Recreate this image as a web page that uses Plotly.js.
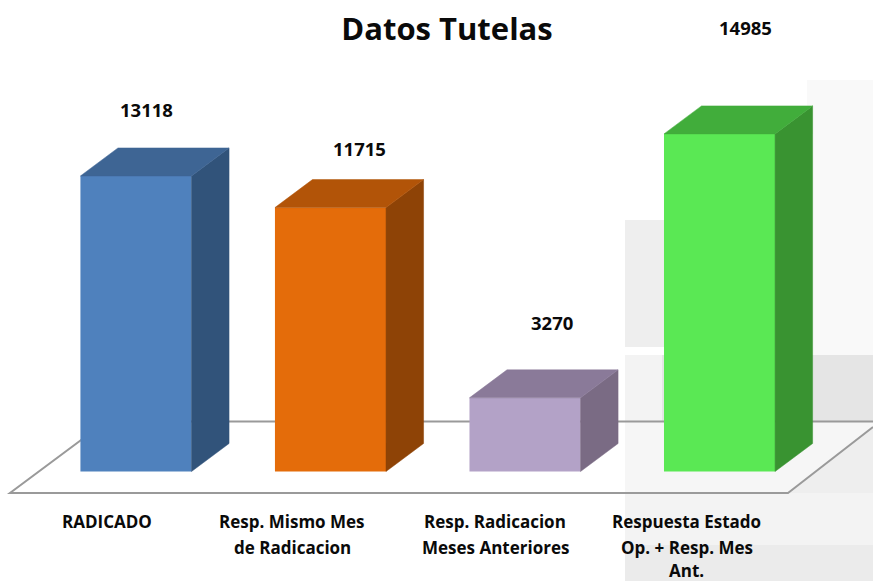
<!DOCTYPE html>
<html>
<head>
<meta charset="utf-8">
<script src="https://cdn.plot.ly/plotly-3.0.1.min.js"></script>
<style>html,body{margin:0;padding:0;background:#fff;overflow:hidden}#chart{width:873px;height:581px}</style>
</head>
<body>
<div id="chart"></div>
<script>
const categories = ['RADICADO', 'Resp. Mismo Mes<br>de Radicacion', 'Resp. Radicacion<br>Meses Anteriores', 'Respuesta Estado<br>Op. + Resp. Mes<br>Ant.'];
const values = [13118, 11715, 3270, 14985];
const frontColors = ['#4f81bd', '#e46c0a', '#b3a2c7', '#5ae854'];
const sideColors = ['#31537a', '#8e4306', '#7a6b84', '#399331'];
const topColors = ['#3e6594', '#b25408', '#8a7a99', '#41ad3b'];
const valueShiftX = [11, 29, 27, 26];
const valueShiftY = [66, 59, 75, 106];
const catShiftX = [-29, -38, -30, -33];
const lineOffsets = [0, 26, 49];

const barWidth = 0.571, depthX = 0.193, depthY = 1243;
const positions = values.map((_, i) => i);

const traces = [{
  type: 'bar', x: positions, y: values, width: barWidth,
  marker: {color: frontColors, line: {width: 0}}, hoverinfo: 'y'
}];
values.forEach((v, i) => {
  const r = i + barWidth / 2, l = i - barWidth / 2;
  traces.push({
    type: 'scatter', mode: 'lines', fill: 'toself', fillcolor: sideColors[i],
    line: {width: 0.5, color: sideColors[i]}, hoverinfo: 'skip',
    x: [r, r + depthX, r + depthX, r, r],
    y: [0, depthY, v + depthY, v, 0]
  });
  traces.push({
    type: 'scatter', mode: 'lines', fill: 'toself', fillcolor: topColors[i],
    line: {width: 0.5, color: topColors[i]}, hoverinfo: 'skip',
    x: [l, l + depthX, r + depthX, r, l],
    y: [v, v + depthY, v + depthY, v, v]
  });
});

const W = 873, H = 581;
const rect = (x0, y0, x1, y1, color) => ({
  type: 'rect', xref: 'paper', yref: 'paper', layer: 'below',
  x0: x0 / W, x1: x1 / W, y0: 1 - y0 / H, y1: 1 - y1 / H,
  fillcolor: color, line: {width: 0}
});
const floorPts = [[10, 493], [106, 421.5], [873, 421.5], [873, 427], [788, 493]];
const toPath = pts => 'M' + pts.map(p => (p[0] / W) + ',' + (1 - p[1] / H)).join('L') + 'Z';
const line = (pts, color, w) => ({
  type: 'path', xref: 'paper', yref: 'paper', layer: 'below',
  path: 'M' + pts.map(p => (p[0] / W) + ',' + (1 - p[1] / H)).join('L'),
  line: {color: color, width: w}
});
const shapes = [
  rect(807, 80, 873, 355, '#f9f9f9'),
  rect(625, 220, 807, 347, '#eeeeee'),
  rect(625, 355, 873, 581, '#eeeeee'),
  rect(625, 355, 662, 421, '#f3f3f3'),
  rect(662, 355, 873, 421, '#e5e5e5'),
  rect(625, 493, 873, 545, '#f3f3f3'),
  rect(625, 545, 873, 581, '#ebebeb'),
  {type: 'path', xref: 'paper', yref: 'paper', layer: 'below', path: toPath(floorPts), fillcolor: '#f6f6f6', line: {width: 0}},
  {type: 'path', xref: 'paper', yref: 'paper', layer: 'below', path: toPath([[10, 493], [106, 421.5], [625, 421.5], [625, 493]]), fillcolor: '#ffffff', line: {width: 0}},
  line([[873, 427], [788, 493], [10, 493], [106, 421.5], [873, 421.5]], '#9a9a9a', 2)
];

const font = '"Open Sans", sans-serif';
const annotations = [];
values.forEach((v, i) => {
  annotations.push({
    x: i, y: v, xref: 'x', yref: 'y', text: String(v), showarrow: false,
    xshift: valueShiftX[i], yshift: valueShiftY[i], xanchor: 'center', yanchor: 'middle',
    font: {family: font, size: 18.5, color: '#0a0a0a', weight: 700}
  });
  categories[i].split('<br>').forEach((t, k) => {
    annotations.push({
      x: i, y: 0, xref: 'x', yref: 'y', text: t, showarrow: false,
      xshift: catShiftX[i], yshift: -49.5 - lineOffsets[k], xanchor: 'center', yanchor: 'middle',
      font: {family: font, size: 17, color: '#0a0a0a', weight: 700}
    });
  });
});

const layout = {
  width: W, height: H,
  margin: {l: 0, r: 0, t: 0, b: 0},
  paper_bgcolor: '#ffffff', plot_bgcolor: 'rgba(0,0,0,0)',
  showlegend: false,
  title: {text: 'Datos Tutelas', x: 447 / W, xanchor: 'center', y: 1 - 29 / H, yanchor: 'middle',
    font: {family: font, size: 31, color: '#0a0a0a', weight: 700}},
  xaxis: {range: [-0.699, 3.789], visible: false, fixedrange: true},
  yaxis: {range: [-4860, 20928], visible: false, fixedrange: true},
  shapes: shapes, annotations: annotations
};
Plotly.newPlot('chart', traces, layout, {displayModeBar: false, staticPlot: true});
</script>
</body>
</html>
